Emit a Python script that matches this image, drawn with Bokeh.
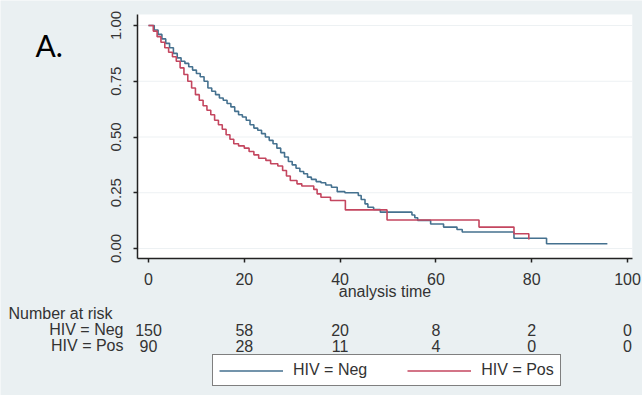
from bokeh.plotting import figure
from bokeh.models import (Legend, Label, LabelSet, ColumnDataSource, FixedTicker,
                          NumeralTickFormatter, Range1d, LinearAxis, BoxAnnotation)
from bokeh.core.properties import value
from bokeh.embed import file_html
from bokeh.resources import INLINE

# ---- Kaplan-Meier step data ----
neg_time = [0, 1.2, 2.0, 2.8, 3.6, 4.4, 5.2, 6.0, 6.8, 7.6, 8.4, 9.2, 10.0, 10.8, 11.6,
            12.4, 13.2, 14.0, 14.8, 15.6, 16.4, 17.2, 18.0, 18.8, 19.6, 20.4, 21.2, 22.0,
            22.8, 23.6, 24.4, 25.2, 26.0, 26.8, 27.6, 28.4, 29.2, 30.0, 30.8, 31.6, 32.4,
            33.2, 34.0, 35.0, 36.0, 37.0, 38.2, 39.4, 41.0, 43.8, 44.4, 45.2, 45.8, 47.0,
            48.4, 55.0, 55.6, 56.2, 58.9, 61.6, 64.4, 65.5, 76.3, 83.1, 95.8]
neg_surv = [1.0, 0.98, 0.96, 0.94, 0.92, 0.90, 0.875, 0.855, 0.84, 0.83, 0.815, 0.80, 0.785,
            0.77, 0.75, 0.72, 0.705, 0.69, 0.675, 0.665, 0.65, 0.635, 0.615, 0.60, 0.59,
            0.575, 0.555, 0.54, 0.53, 0.515, 0.50, 0.485, 0.47, 0.45, 0.43, 0.41, 0.39,
            0.375, 0.36, 0.345, 0.335, 0.32, 0.31, 0.30, 0.295, 0.285, 0.275, 0.255, 0.25,
            0.238, 0.22, 0.20, 0.185, 0.175, 0.163, 0.15, 0.138, 0.126, 0.11, 0.096, 0.085,
            0.074, 0.046, 0.021, 0.021]

pos_time = [0, 1.0, 1.8, 2.6, 3.4, 4.2, 5.0, 5.8, 6.6, 7.4, 8.2, 9.0, 9.8, 10.6, 11.4, 12.2,
            13.0, 13.8, 14.6, 15.4, 16.2, 17.0, 17.8, 18.8, 20.0, 21.0, 22.0, 23.0, 24.5,
            25.5, 27.0, 28.0, 28.8, 29.6, 31.0, 32.0, 34.5, 35.2, 36.0, 38.0, 41.1, 49.8,
            69.0, 76.3, 79.4]
pos_surv = [1.0, 0.975, 0.95, 0.925, 0.90, 0.88, 0.86, 0.84, 0.81, 0.78, 0.75, 0.72, 0.69,
            0.665, 0.64, 0.62, 0.60, 0.575, 0.555, 0.535, 0.51, 0.49, 0.47, 0.46, 0.45,
            0.435, 0.42, 0.405, 0.395, 0.38, 0.37, 0.35, 0.325, 0.305, 0.29, 0.28, 0.265,
            0.245, 0.23, 0.215, 0.173, 0.128, 0.096, 0.066, 0.04]

# ---- axis ticks and risk table ----
x_ticks = [0, 20, 40, 60, 80, 100]
y_ticks = [0.0, 0.25, 0.5, 0.75, 1.0]
risk_times = [0, 20, 40, 60, 80, 100]
neg_risk = [150, 58, 20, 8, 2, 0]
pos_risk = [90, 28, 11, 4, 0, 0]
group_labels = ["HIV = Neg", "HIV = Pos"]

NEG_COLOR = "#45718f"
POS_COLOR = "#c4465f"
TEXT = "#333333"
FONT = "Liberation Sans"

# ---- layout (pixels) ----
W, H = 642, 395
PX_PER_T = 4.79          # px per time unit
T0_PX = 148              # px position of t=0
PX_PER_S = 223           # px per survival unit
S0_PY = 248              # px (from top) of survival 0
# plot region (white box) in data units
X_LO, X_HI = -2.3, 101.0
Y_LO, Y_HI = -0.045, 1.049

x_start = -T0_PX / PX_PER_T
x_end = (W - T0_PX) / PX_PER_T
y_end = S0_PY / PX_PER_S
y_start = -(H - S0_PY) / PX_PER_S

p = figure(width=W, height=H, output_backend="svg", toolbar_location=None,
           x_range=Range1d(x_start, x_end), y_range=Range1d(y_start, y_end),
           x_axis_location=None, y_axis_location=None,
           min_border=0)
p.min_border_left = p.min_border_right = p.min_border_top = p.min_border_bottom = 0
p.background_fill_color = "#eaf0f2"
p.border_fill_color = "#eaf0f2"
p.outline_line_color = None
p.grid.visible = False

p.add_layout(BoxAnnotation(left=X_LO, right=X_HI, bottom=Y_LO, top=Y_HI,
                           fill_color="white", fill_alpha=1.0, line_color=None,
                           level="underlay"))

# faint horizontal gridlines
p.segment(x0=[X_LO] * len(y_ticks), x1=[X_HI] * len(y_ticks), y0=y_ticks, y1=y_ticks,
          line_color="#edf1f3", line_width=1)

r_neg = p.step(neg_time, neg_surv, mode="after", line_color=NEG_COLOR, line_width=1.6)
r_pos = p.step(pos_time, pos_surv, mode="after", line_color=POS_COLOR, line_width=1.6)

xaxis = LinearAxis(fixed_location=Y_LO, bounds=(X_LO, X_HI),
                   ticker=FixedTicker(ticks=x_ticks))
yaxis = LinearAxis(fixed_location=X_LO, bounds=(Y_LO, Y_HI),
                   ticker=FixedTicker(ticks=y_ticks),
                   formatter=NumeralTickFormatter(format="0.00"))
for ax in (xaxis, yaxis):
    ax.axis_line_color = "#222222"
    ax.axis_line_width = 1.5
    ax.major_tick_line_color = "#222222"
    ax.major_tick_line_width = 1.5
    ax.major_tick_out = 4
    ax.major_tick_in = 0
    ax.minor_tick_line_color = None
    ax.major_label_text_color = TEXT
    ax.major_label_text_font = FONT

xaxis.major_label_text_font_size = "16px"
xaxis.major_label_standoff = 10
xaxis.axis_label = "analysis time"
xaxis.axis_label_text_font = FONT
xaxis.axis_label_text_font_style = "normal"
xaxis.axis_label_text_font_size = "16px"
xaxis.axis_label_text_color = TEXT
xaxis.axis_label_standoff = -5

yaxis.major_label_orientation = "vertical"
yaxis.major_label_text_font_size = "15px"
yaxis.major_label_standoff = 12

p.add_layout(xaxis, "below")
p.add_layout(yaxis, "left")

# panel letter
p.add_layout(Label(x=35, y=H - 44, x_units="screen", y_units="screen", text="A.",
                   text_font="Lato", text_font_size="30px", text_color="black",
                   text_baseline="middle"))

# number at risk table
p.add_layout(Label(x=8, y=H - 313, x_units="screen", y_units="screen",
                   text="Number at risk", text_font=FONT, text_font_size="16px",
                   text_color=TEXT, text_baseline="middle"))
row_y = [H - 329, H - 345]
for lab, yy in zip(group_labels, row_y):
    p.add_layout(Label(x=123, y=yy, x_units="screen", y_units="screen", text=lab,
                       text_font=FONT, text_font_size="16px", text_color=TEXT,
                       text_align="right", text_baseline="middle"))
for counts, yy in zip([neg_risk, pos_risk], row_y):
    src = ColumnDataSource(dict(x=risk_times, y=[yy] * len(risk_times),
                                t=[str(c) for c in counts]))
    p.add_layout(LabelSet(x="x", y="y", text="t", source=src, y_units="screen",
                          text_font=value(FONT), text_font_size=value("16px"),
                          text_color=TEXT, text_align="center",
                          text_baseline="middle"))

legend = Legend(items=[(group_labels[0], [r_neg]), (group_labels[1], [r_pos])],
                orientation="horizontal", location=(212, H - 386))
legend.border_line_color = "black"
legend.border_line_width = 1.5
legend.background_fill_color = "white"
legend.background_fill_alpha = 1.0
legend.label_text_font = FONT
legend.label_text_font_size = "16px"
legend.label_text_color = TEXT
legend.glyph_width = 64
legend.label_standoff = 10
legend.spacing = 40
legend.padding = 6
legend.margin = 0
legend.label_height = 17
legend.glyph_height = 17
p.add_layout(legend)

open("out.html", "w").write(file_html(p, INLINE))
